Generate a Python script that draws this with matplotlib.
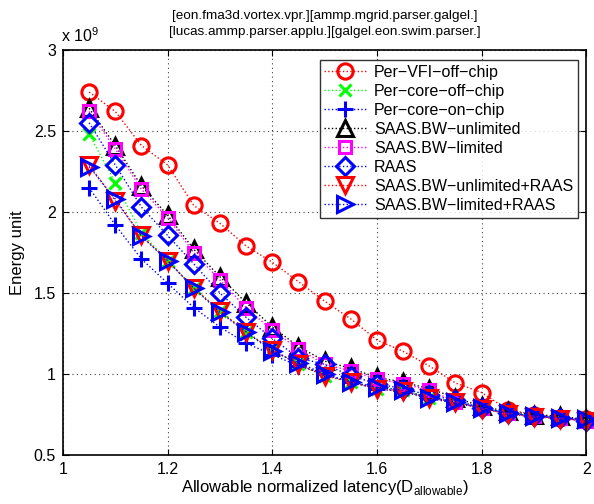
import matplotlib.pyplot as plt

plt.rcParams["font.family"] = ["Liberation Sans", "DejaVu Sans"]

# latency points and energy values (in units of 1e9)
latency = [1.05, 1.10, 1.15, 1.20, 1.25, 1.30, 1.35, 1.40, 1.45, 1.50,
           1.55, 1.60, 1.65, 1.70, 1.75, 1.80, 1.85, 1.90, 1.95, 2.00]

per_vfi_off = [2.74, 2.62, 2.41, 2.29, 2.04, 1.93, 1.79, 1.69, 1.57, 1.45,
               1.34, 1.21, 1.14, 1.05, 0.945, 0.886, 0.78, 0.75, 0.73, 0.72]
per_core_off = [2.48, 2.18, 1.87, 1.70, 1.53, 1.39, 1.26, 1.15, 1.06, 0.99,
                0.95, 0.91, 0.90, 0.855, 0.83, 0.79, 0.76, 0.74, 0.73, 0.71]
per_core_on = [2.15, 1.92, 1.71, 1.56, 1.41, 1.29, 1.19, 1.12, 1.05, 1.00,
               0.95, 0.91, 0.89, 0.85, 0.82, 0.79, 0.76, 0.74, 0.73, 0.71]
saas_unlim = [2.64, 2.41, 2.16, 1.98, 1.77, 1.60, 1.44, 1.29, 1.17, 1.08,
              1.035, 0.98, 0.95, 0.91, 0.855, 0.80, 0.77, 0.75, 0.74, 0.72]
saas_lim = [2.62, 2.39, 2.14, 1.965, 1.75, 1.58, 1.41, 1.27, 1.155, 1.06,
            1.02, 0.97, 0.94, 0.90, 0.83, 0.79, 0.76, 0.74, 0.73, 0.71]
raas = [2.55, 2.29, 2.03, 1.855, 1.68, 1.50, 1.35, 1.22, 1.10, 1.06,
        0.99, 0.94, 0.91, 0.87, 0.84, 0.79, 0.76, 0.74, 0.73, 0.71]
saas_unlim_raas = [2.29, 2.07, 1.855, 1.70, 1.53, 1.39, 1.26, 1.15, 1.06, 0.99,
                   0.95, 0.91, 0.895, 0.85, 0.83, 0.785, 0.755, 0.735, 0.725, 0.71]
saas_lim_raas = [2.28, 2.08, 1.85, 1.70, 1.53, 1.38, 1.26, 1.14, 1.07, 1.00,
                 0.95, 0.92, 0.90, 0.855, 0.83, 0.79, 0.76, 0.74, 0.73, 0.72]

labels = ["Per\u2212VFI\u2212off\u2212chip", "Per\u2212core\u2212off\u2212chip",
          "Per\u2212core\u2212on\u2212chip", "SAAS.BW\u2212unlimited",
          "SAAS.BW\u2212limited", "RAAS", "SAAS.BW\u2212unlimited+RAAS",
          "SAAS.BW\u2212limited+RAAS"]
series = [per_vfi_off, per_core_off, per_core_on, saas_unlim, saas_lim,
          raas, saas_unlim_raas, saas_lim_raas]
colors = ["#ff0000", "#00ff00", "#0000ff", "#000000", "#ff00ff",
          "#0000ff", "#ff0000", "#0000ff"]
markers = ["o", "x", "+", "^", "s", "D", "v", ">"]
sizes = [11, 9, 12, 11, 8, 9, 11, 11]

xticks = [1, 1.2, 1.4, 1.6, 1.8, 2]
xticklabels = ["1", "1.2", "1.4", "1.6", "1.8", "2"]
yticks = [0.5, 1, 1.5, 2, 2.5, 3]
yticklabels = ["0.5", "1", "1.5", "2", "2.5", "3"]

fig = plt.figure(figsize=(5.94, 5.04), dpi=100)
ax = fig.add_axes([0.106, 0.097, 0.881, 0.804])

for vals, lab, col, mk, ms in zip(series, labels, colors, markers, sizes):
    ax.plot(latency, vals, linestyle=":", linewidth=1, color=col,
            marker=mk, markersize=ms, markerfacecolor="none",
            markeredgecolor=col, markeredgewidth=2.2, label=lab,
            clip_on=False)

ax.set_xlim(1, 2)
ax.set_ylim(0.5, 3)
ax.set_xticks(xticks)
ax.set_xticklabels(xticklabels)
ax.set_yticks(yticks)
ax.set_yticklabels(yticklabels)
ax.tick_params(direction="in", top=True, right=True, length=4,
               labelsize=11.5, width=0.8, pad=5)
ax.grid(True, linestyle=(0, (1, 3)), color="0.25", linewidth=0.8)
for sp in ax.spines.values():
    sp.set_linewidth(1.2)

ax.set_xlabel("Allowable normalized latency(D$_{\\mathregular{allowable}}$)",
              fontsize=12, labelpad=1)
ax.set_ylabel("Energy unit", fontsize=12, labelpad=6)
ax.set_title("[eon.fma3d.vortex.vpr.][ammp.mgrid.parser.galgel.]\n"
             "[lucas.ammp.parser.applu.][galgel.eon.swim.parser.]",
             fontsize=9.7, linespacing=1.45, pad=11)
ax.text(-0.003, 1.012, "x 10$^{\\mathregular{9}}$", transform=ax.transAxes,
        fontsize=11.5, ha="left", va="bottom")

leg = ax.legend(loc="upper right", fontsize=11.5, frameon=True, fancybox=False,
                edgecolor="black", handlelength=2.6, borderpad=0.3,
                labelspacing=0.25, handletextpad=0.5, borderaxespad=0,
                bbox_to_anchor=(578 / 594, 1 - 60 / 504),
                bbox_transform=fig.transFigure)
leg.get_frame().set_linewidth(1.0)

fig.savefig("out.png", dpi=100)
